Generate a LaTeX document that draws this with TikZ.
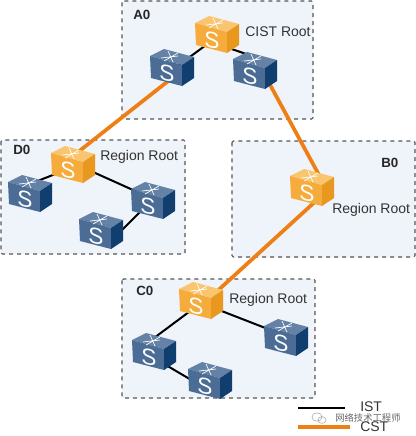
\documentclass[tikz,border=0pt]{standalone}
\usepackage{fontspec}
\setmainfont{Liberation Sans}
\newfontfamily\cjkfont{Noto Sans CJK SC}
\definecolor{regionfill}{HTML}{EFF3FA}
\definecolor{regionedge}{HTML}{555555}
\definecolor{cstline}{HTML}{EE7F14}
\definecolor{bluetop}{HTML}{6482A6}
\definecolor{bluefront}{HTML}{4A6C95}
\definecolor{blueside}{HTML}{103E6E}
\definecolor{orangetop}{HTML}{F9C56E}
\definecolor{orangefront}{HTML}{F6AC3C}
\definecolor{orangeside}{HTML}{E9981F}
\tikzset{
  region/.style={draw=regionedge, fill=regionfill, dashed, line width=0.8pt, rounded corners=1pt},
  istlink/.style={black, line width=1.5pt},
  cstlink/.style={cstline, line width=2.8pt},
  boxlabel/.style={font=\bfseries\fontsize{10}{12}\selectfont, text=black!85, inner sep=0pt},
  rootlabel/.style={font=\fontsize{10.5}{12}\selectfont, text=black!80, inner sep=0pt},
  pics/blueswitch/.style={code={\pic {switchbox={bluetop}{bluefront}{blueside}};}},
  pics/orangeswitch/.style={code={\pic {switchbox={orangetop}{orangefront}{orangeside}};}},
  pics/switchbox/.style n args={3}{code={
    % centre of the box is the pic origin
    \fill[#1] (-22,-14) -- (-8,-21) -- (22,-13) -- (10,-5) -- cycle;
    \fill[#2] (-22,-14) -- (10,-5) -- (10,16) -- (-21,8) -- cycle;
    \fill[#3] (10,-5) -- (22,-13) -- (22,8) -- (10,16) -- cycle;
    \draw[white, line width=0.5pt] (-11,-12) -- (6,-14) (-4,-19) -- (1,-8) (-8,-9) -- (6,-17);
    \node[white, yslant=-0.2, inner sep=0pt, font=\fontsize{17}{17}\selectfont] at (-5,3) {S};
  }}
}
\begin{document}
\begin{tikzpicture}[x=0.75pt, y=-0.75pt]
  \useasboundingbox (0,0) rectangle (416,436);

  % Regions
  \draw[region] (122,1) rectangle (313,119);
  \draw[region] (1,140) rectangle (185,254);
  \draw[region] (232,141) rectangle (415,257);
  \draw[region] (122,279) rectangle (315,398);

  % Switch positions
  \coordinate (a0root) at (217,37);
  \coordinate (a0left) at (172,70);
  \coordinate (a0right) at (255,73);
  \coordinate (d0root) at (73,167);
  \coordinate (d0left) at (30,196);
  \coordinate (d0right) at (153,203);
  \coordinate (d0low) at (101,233);
  \coordinate (b0root) at (312,190);
  \coordinate (c0root) at (201,303);
  \coordinate (c0right) at (286,340);
  \coordinate (c0left) at (154,354);
  \coordinate (c0low) at (210,383);

  % Links (the ends do not meet the boxes at their centres)
  \foreach \from/\fs/\to/\ts in {a0root/0/a0left/0, a0root/-5.25/a0right/12,
      d0root/0/d0left/9, d0root/3/d0right/3, c0root/0/c0left/12,
      c0root/0/c0right/3, c0left/-3/c0low/-6}
    \draw[istlink] ([yshift=\fs pt]\from) -- ([yshift=\ts pt]\to);
  \draw[istlink] ([yshift=3pt]d0right) -- ([xshift=6.75pt, yshift=-6.75pt]d0low);
  \draw[cstlink] ([yshift=-6pt]a0left) -- ([yshift=8.25pt]d0root);
  \draw[cstlink] ([xshift=6.5pt]a0right) -- ([xshift=5.25pt, yshift=11.25pt]b0root);
  \draw[cstlink] ([xshift=4.5pt, yshift=-6.75pt]b0root) -- ([xshift=9pt, yshift=6pt]c0root);

  % Switches
  \foreach \sw in {a0left, a0right, d0left, d0right, d0low, c0right, c0left, c0low}
    \pic at (\sw) {blueswitch};
  \foreach \sw in {a0root, d0root, b0root, c0root}
    \pic at (\sw) {orangeswitch};

  % Labels
  \node[boxlabel, anchor=west] (a0name) at (133,15) {A0};
  \node[boxlabel, anchor=west] (d0name) at (13,150) {D0};
  \node[boxlabel, anchor=west] (b0name) at (381,163) {B0};
  \node[boxlabel, anchor=west] (c0name) at (136,291) {C0};
  \node[rootlabel, anchor=west] (a0text) at (245,32) {CIST Root};
  \node[rootlabel, anchor=west] (d0text) at (100,157) {Region Root};
  \node[rootlabel, anchor=west] (b0text) at (332,210) {Region Root};
  \node[rootlabel, anchor=west] (c0text) at (229,300) {Region Root};

  % Legend
  \coordinate (istfrom) at (298,408);
  \coordinate (istto) at (345,408);
  \coordinate (cstfrom) at (298,427);
  \coordinate (cstto) at (350,427);
  \draw[black, line width=1.3pt] (istfrom) -- (istto);
  \draw[cstline, line width=2.8pt] (cstfrom) -- (cstto);
  \node[rootlabel, anchor=west] (istname) at (360,407) {IST};
  \node[rootlabel, anchor=west] (cstname) at (360,427) {CST};

  % Watermark
  \draw[black!35, line width=0.4pt] (317,417) ellipse (5 and 4.2) (322,420) ellipse (4 and 3.4);
  \node[anchor=west, inner sep=0pt, text=black!60, font=\cjkfont\fontsize{7}{8}\selectfont] (mark) at (335,418) {网络技术工程师};
\end{tikzpicture}
\end{document}
